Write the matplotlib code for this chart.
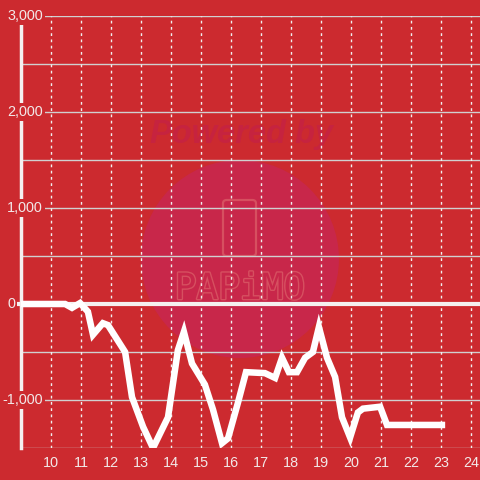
import matplotlib
matplotlib.use("Agg")
import matplotlib.pyplot as plt
from matplotlib.patches import Ellipse, FancyBboxPatch
import matplotlib.patheffects as pe

plt.rcParams['font.family'] = ['Liberation Sans', 'DejaVu Sans']

# Data
hours = [9.0, 10.47, 10.7, 10.97, 11.23, 11.4, 11.73, 11.9, 12.47, 12.7, 13.07,
         13.4, 13.9, 14.23, 14.43, 14.7, 15.13, 15.4, 15.7, 15.9, 16.23, 16.5,
         17.13, 17.47, 17.7, 17.93, 18.2, 18.47, 18.73, 18.93, 19.2, 19.47,
         19.7, 19.97, 20.23, 20.4, 20.97, 21.2, 23.03]
values = [0, 0, -40, 10, -80, -320, -200, -220, -500, -970, -1280,
          -1500, -1180, -480, -290, -620, -840, -1100, -1450, -1400, -1030, -710,
          -720, -770, -560, -710, -710, -560, -500, -240, -560, -760,
          -1180, -1390, -1130, -1090, -1070, -1260, -1260]
x_ticks = list(range(10, 25))
y_label_vals = [3000, 2000, 1000, 0, -1000]
y_label_txt = ['3,000', '2,000', '1,000', '0', '-1,000']
y_grid = [3000, 2500, 2000, 1500, 1000, 500, 0, -500, -1000, -1500]

BG = '#cc2a2f'
fig = plt.figure(figsize=(4.8, 4.8), dpi=100, facecolor=BG)
ax = fig.add_axes([21/480, 32/480, 459/480, 432/480])
ax.set_facecolor(BG)
ax.set_xlim(9, 9 + 459/30)
ax.set_ylim(-1500, 3000)

# watermark
ax.add_patch(Ellipse((0.477, 0.4375), 198/459, 198/432, transform=ax.transAxes,
                     facecolor='#c8274a', edgecolor='none', zorder=0.3))
ax.text(0.480, (448-134)/432, 'Powered by', transform=ax.transAxes, ha='center',
        va='center', fontsize=23.5, fontweight='bold', style='italic',
        color='#c6233f', zorder=0.4)
ax.add_patch(FancyBboxPatch(((223-21)/459, (448-256)/432), 33/459, 56/432,
                            boxstyle='round,pad=0,rounding_size=0.008',
                            transform=ax.transAxes, facecolor='none',
                            edgecolor='#d65060', lw=1.6, zorder=0.4))
ax.text(0.477, (448-289)/432, 'PAPiMO', transform=ax.transAxes, ha='center',
        va='center', fontsize=26, family='DejaVu Sans Mono', color='#c8274a',
        zorder=0.4,
        path_effects=[pe.withStroke(linewidth=2.0, foreground='#d65060')])

# grid
for v in y_grid:
    ax.axhline(v, color='#d0d0d0', lw=1.0, zorder=1)
for t in x_ticks:
    ax.axvline(t, color='#f0f0f0', lw=1.0, ls=(0, (2, 2.5)), zorder=1)

# zero line
ax.plot([-0.01, 1], [0, 0], transform=ax.get_yaxis_transform(), color='#f5f0f0',
        lw=3, zorder=2, clip_on=False, solid_capstyle='butt')

for s in ['top', 'right', 'bottom']:
    ax.spines[s].set_visible(False)
ax.spines['left'].set_color('#f5f0f0')
ax.spines['left'].set_linewidth(2.5)
ax.spines['left'].set_zorder(2.5)

ax.plot(hours, values, color='white', lw=4.7, solid_joinstyle='miter', zorder=3)

ax.set_xticks(x_ticks)
ax.set_xticklabels([str(t) for t in x_ticks])
ax.tick_params(axis='x', length=0, pad=6, labelsize=10.4, labelcolor='#f2e8e8')
ax.set_yticks([])

ytr = ax.get_yaxis_transform()
for v, t in zip(y_label_vals, y_label_txt):
    xpos = (15-21)/459 if t == '0' else (43-21)/459
    ax.text(xpos, v, t, transform=ytr, ha='right', va='center', fontsize=10.4,
            color='#f2e8e8', zorder=4, clip_on=False,
            bbox=dict(boxstyle='square,pad=0.12', facecolor=BG, edgecolor='none'))

fig.savefig('out.png', dpi=100, facecolor=BG)
